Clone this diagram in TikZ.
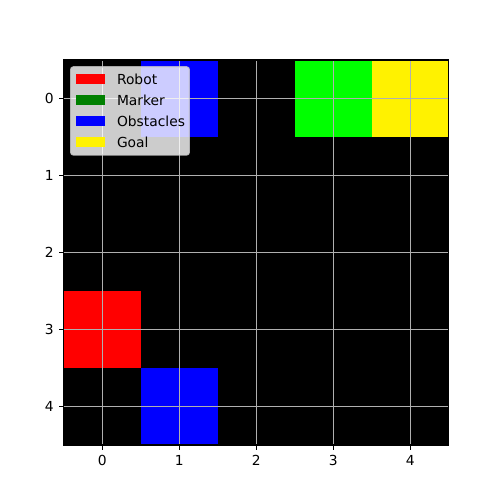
\documentclass[tikz,border=0pt]{standalone}
\usepackage{fontspec}
\setmainfont{DejaVu Sans}
\usetikzlibrary{positioning}
\definecolor{GridGray}{HTML}{B0B0B0}
\definecolor{FrameGray}{RGB}{204,204,204}
\definecolor{MarkerLime}{RGB}{0,255,0}
\definecolor{MarkerGreen}{RGB}{0,128,0}

\tikzset{
  gridline/.style={GridGray, line width=0.8pt},
  tick/.style={black, line width=0.8pt},
  ticklabel/.style={inner sep=0pt, font=\normalsize},
  swatch/.style={fill=#1, draw=none, inner sep=0pt, minimum width=0.29in, minimum height=0.097in},
  legendtext/.style={inner sep=0pt, anchor=west, text height=0.73em, text depth=0pt},
  legendframe/.style={fill=white, fill opacity=0.8, draw=FrameGray, draw opacity=0.8, line width=1pt, rounded corners=2pt}
}

\begin{document}
\begin{tikzpicture}[x=0.77in, y=-0.77in]
    \useasboundingbox (-1.3279,-1.2792) rectangle (5.1656,5.2143);

    % Grid world
    \fill[black] (-0.5,-0.5) rectangle (4.5,4.5);
    \fill[blue] (0.5,-0.5) rectangle (1.5,0.5);
    \fill[blue] (0.5,3.5) rectangle (1.5,4.5);
    \fill[MarkerLime] (2.5,-0.5) rectangle (3.5,0.5);
    \fill[yellow] (3.5,-0.5) rectangle (4.5,0.5);
    \fill[red] (-0.5,2.5) rectangle (0.5,3.5);

    % Grid lines
    \foreach \i in {0,...,4} {
      \draw[gridline] (\i,-0.5) -- (\i,4.5);
      \draw[gridline] (-0.5,\i) -- (4.5,\i);
    }

    % Axes frame
    \draw[tick] (-0.5,-0.5) rectangle (4.5,4.5);

    % Ticks and labels
    \foreach \i in {0,...,4} {
      \draw[tick] (\i,4.5) -- ++(0,-3.5pt) coordinate (xt\i);
      \node[ticklabel, anchor=north] (xl\i) at ([yshift=-3.5pt]xt\i) {\i};
      \draw[tick] (-0.5,\i) -- ++(-3.5pt,0) coordinate (yt\i);
      \node[ticklabel, anchor=east] (yl\i) at ([xshift=-3.5pt]yt\i) {\i};
    }

    % Legend
    \draw[legendframe] (-0.4097,-0.4104) rectangle (1.1305,0.7338);
    \node[swatch=red] (robot) at (-0.1546,-0.2532) {};
    \node[swatch=MarkerGreen] (marker) at (-0.1546,0.0195) {};
    \node[swatch=blue] (obstacles) at (-0.1546,0.2922) {};
    \node[swatch=yellow] (goal) at (-0.1546,0.5649) {};
    \node[legendtext, right=8.4pt of robot] (robotlbl) {Robot};
    \node[legendtext, right=8.4pt of marker] (markerlbl) {Marker};
    \node[legendtext, right=8.4pt of obstacles] (obstacleslbl) {Obstacles};
    \node[legendtext, right=8.4pt of goal] (goallbl) {Goal};
\end{tikzpicture}
\end{document}
